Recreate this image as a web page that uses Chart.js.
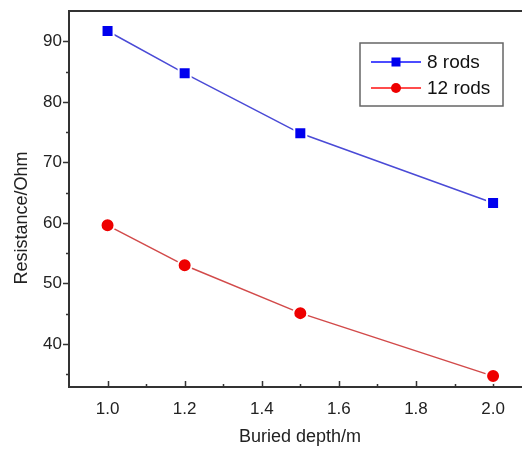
<!DOCTYPE html>
<html>
<head>
<meta charset="utf-8">
<script src="https://cdn.jsdelivr.net/npm/chart.js@4.4.1/dist/chart.umd.min.js"></script>
<style>
  html, body { margin: 0; padding: 0; background: #fff; overflow: hidden; }
  #wrap { width: 522px; height: 450px; }
</style>
</head>
<body>
<div id="wrap"><canvas id="graph"></canvas></div>
<script>
// data
var depths = [1.0, 1.2, 1.5, 2.0];
var rods8 = [91.7, 84.7, 74.8, 63.3];
var rods12 = [59.6, 53.0, 45.1, 34.7];
var seriesNames = ["8 rods", "12 rods"];

var xMajor = [1.0, 1.2, 1.4, 1.6, 1.8, 2.0];
var xMinor = [1.1, 1.3, 1.5, 1.7, 1.9];
var yMajor = [40, 50, 60, 70, 80, 90];
var yMinor = [35, 45, 55, 65, 75, 85];
var xTitle = "Buried depth/m";
var yTitle = "Resistance/Ohm";

var FONT = "'Liberation Sans', Arial, sans-serif";

function pts(ys) {
  return depths.map(function (x, i) { return { x: x, y: ys[i] }; });
}

// frame, ticks, axis titles and boxed legend (Origin style)
var framePlugin = {
  id: "frame",
  beforeDatasetsDraw: function (chart) {
    var ctx = chart.ctx, a = chart.chartArea;
    var xs = chart.scales.x, ys = chart.scales.y;
    ctx.save();
    ctx.strokeStyle = "#333";
    ctx.lineWidth = 2;
    ctx.beginPath();
    ctx.moveTo(a.left, a.top);
    ctx.lineTo(a.right, a.top);
    ctx.moveTo(a.left, a.top - 1);
    ctx.lineTo(a.left, a.bottom + 1);
    ctx.moveTo(a.left - 1, a.bottom);
    ctx.lineTo(a.right, a.bottom);
    ctx.stroke();
    ctx.lineWidth = 1.5;
    ctx.beginPath();
    yMajor.forEach(function (v) {
      var p = Math.round(ys.getPixelForValue(v)) + 0.5;
      ctx.moveTo(a.left - 6, p); ctx.lineTo(a.left, p);
    });
    yMinor.forEach(function (v) {
      var p = Math.round(ys.getPixelForValue(v)) + 0.5;
      ctx.moveTo(a.left - 3, p); ctx.lineTo(a.left, p);
    });
    xMajor.forEach(function (v) {
      var p = Math.round(xs.getPixelForValue(v)) + 0.5;
      ctx.moveTo(p, a.bottom); ctx.lineTo(p, a.bottom - 6);
    });
    xMinor.forEach(function (v) {
      var p = Math.round(xs.getPixelForValue(v)) + 0.5;
      ctx.moveTo(p, a.bottom); ctx.lineTo(p, a.bottom - 3);
    });
    ctx.stroke();

    // axis titles
    ctx.fillStyle = "#222";
    ctx.font = "18px " + FONT;
    ctx.textAlign = "center";
    ctx.textBaseline = "middle";
    ctx.fillText(xTitle, 300, 437);
    ctx.translate(22, 218);
    ctx.rotate(-Math.PI / 2);
    ctx.fillText(yTitle, 0, 0);
    ctx.restore();
  },
  afterDatasetsDraw: function (chart) {
    var ctx = chart.ctx, a = chart.chartArea;
    var bx = a.right - 162, by = a.top + 32, bw = 143, bh = 63;
    ctx.save();
    ctx.fillStyle = "#fff";
    ctx.fillRect(bx, by, bw, bh);
    ctx.strokeStyle = "#666";
    ctx.lineWidth = 1.5;
    ctx.strokeRect(bx, by, bw, bh);
    chart.data.datasets.forEach(function (ds, i) {
      var cy = by + 19 + i * 26;
      ctx.strokeStyle = ds.legendColor;
      ctx.lineWidth = 1.5;
      ctx.beginPath();
      ctx.moveTo(bx + 11, cy); ctx.lineTo(bx + 61, cy);
      ctx.stroke();
      ctx.fillStyle = ds.pointBackgroundColor;
      if (ds.pointStyle === "rect") {
        ctx.fillRect(bx + 36 - 4.5, cy - 4.5, 9, 9);
      } else {
        ctx.beginPath();
        ctx.arc(bx + 36, cy, 5, 0, Math.PI * 2);
        ctx.fill();
      }
      ctx.fillStyle = "#111";
      ctx.font = "19px " + FONT;
      ctx.textAlign = "left";
      ctx.textBaseline = "middle";
      ctx.fillText(ds.label, bx + 67, cy + 1);
    });
    ctx.restore();
  }
};

var chart = new Chart("graph", {
  type: "line",
  data: {
    datasets: [{
      label: seriesNames[0],
      data: pts(rods8),
      borderColor: "#4a4ad6",
      legendColor: "#1010ff",
      borderWidth: 1.5,
      pointStyle: "rect",
      pointRadius: 8.5,
      pointBackgroundColor: "#0000ee",
      pointBorderColor: "#fff",
      pointBorderWidth: 2,
      lineTension: 0,
      fill: false
    }, {
      label: seriesNames[1],
      data: pts(rods12),
      borderColor: "#d24a4a",
      legendColor: "#ff1010",
      borderWidth: 1.5,
      pointStyle: "circle",
      pointRadius: 7,
      pointBackgroundColor: "#ee0000",
      pointBorderColor: "#fff",
      pointBorderWidth: 2,
      lineTension: 0,
      fill: false
    }]
  },
  options: {
    responsive: true,
    maintainAspectRatio: false,
    animation: false,
    events: [],
    layout: { autoPadding: false, padding: { top: 11, right: 0, left: 0, bottom: 0 } },
    plugins: {
      legend: { display: false },
      tooltip: { enabled: false }
    },
    scales: {
      x: {
        type: "linear",
        min: 0.9,
        max: 2.075,
        grid: { display: false, drawTicks: false },
        border: { display: false },
        afterBuildTicks: function (s) { s.ticks = xMajor.map(function (v) { return { value: v }; }); },
        afterFit: function (s) {
          s.height = 63;
          s.paddingLeft = 0; s.paddingRight = 0;
        },
        ticks: {
          padding: 12,
          color: "#222",
          font: { family: FONT, size: 17 },
          maxRotation: 0,
          callback: function (v) { return Number(v).toFixed(1); }
        }
      },
      y: {
        min: 32.9,
        max: 95,
        grid: { display: false, drawTicks: false },
        border: { display: false },
        afterBuildTicks: function (s) { s.ticks = yMajor.map(function (v) { return { value: v }; }); },
        afterFit: function (s) {
          s.width = 69;
          s.paddingTop = 0; s.paddingBottom = 0;
        },
        ticks: {
          padding: 7,
          color: "#222",
          font: { family: FONT, size: 17 }
        }
      }
    }
  },
  plugins: [framePlugin]
});
</script>
</body>
</html>
